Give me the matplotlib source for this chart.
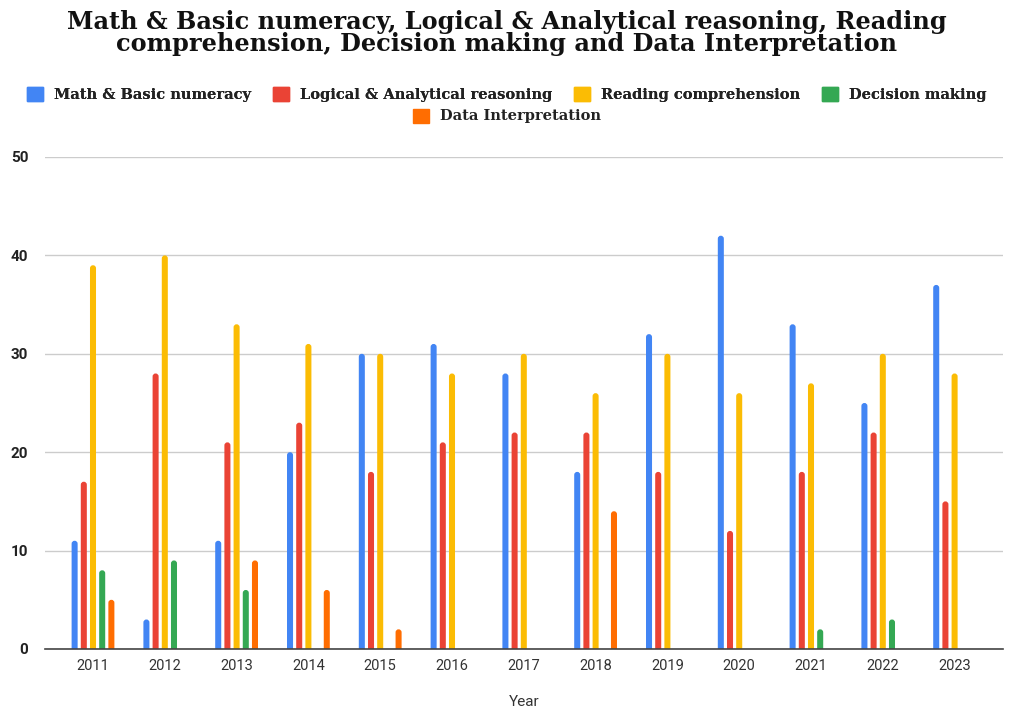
import matplotlib
matplotlib.use("Agg")
import matplotlib.pyplot as plt
from matplotlib.patches import Patch, FancyBboxPatch
import numpy as np

years = ["2011", "2012", "2013", "2014", "2015", "2016", "2017", "2018", "2019", "2020", "2021", "2022", "2023"]
series_names = ["Math & Basic numeracy", "Logical & Analytical reasoning", "Reading comprehension",
                "Decision making", "Data Interpretation"]
math_basic = [11, 3, 11, 20, 30, 31, 28, 18, 32, 42, 33, 25, 37]
logical = [17, 28, 21, 23, 18, 21, 22, 22, 18, 12, 18, 22, 15]
reading = [39, 40, 33, 31, 30, 28, 30, 26, 30, 26, 27, 30, 28]
decision = [8, 9, 6, 0, 0, 0, 0, 0, 0, 0, 2, 3, 0]
data_interp = [5, 0, 9, 6, 2, 0, 0, 14, 0, 0, 0, 0, 0]
colors = ["#4285F4", "#EA4335", "#FBBC04", "#34A853", "#FF6D01"]
yticks = [0, 10, 20, 30, 40, 50]

all_series = [math_basic, logical, reading, decision, data_interp]

W, H = 1026, 717
fig = plt.figure(figsize=(W / 100, H / 100), dpi=100)
ax_px_w, ax_px_h = 1003 - 45, 649 - 157
ax = fig.add_axes([45 / W, 1 - 649 / H, ax_px_w / W, ax_px_h / H])

xlim = ((45 - 93) / 71.8, (1003 - 93) / 71.8)
ylim = (0, 50)
ax.set_xlim(*xlim)
ax.set_ylim(*ylim)

x_per_px = (xlim[1] - xlim[0]) / ax_px_w
y_per_px = (ylim[1] - ylim[0]) / ax_px_h
aspect = y_per_px / x_per_px

x = np.arange(len(years))
step = 0.128
bw = 0.084
r = 3 * x_per_px
for i, (vals, c) in enumerate(zip(all_series, colors)):
    for xi, v in zip(x + (i - 2) * step, vals):
        if v <= 0:
            continue
        p = FancyBboxPatch((xi - bw / 2, -1), bw, v + 1,
                           boxstyle=f"round,pad=0,rounding_size={r}",
                           mutation_aspect=aspect, facecolor=c, edgecolor="none",
                           zorder=3, clip_on=True)
        ax.add_patch(p)

ax.set_yticks(yticks)
ax.set_yticklabels([str(v) for v in yticks], fontsize=11, fontweight="bold",
                   family="Roboto", color="#222222")
ax.set_xticks(x)
ax.set_xticklabels(years, fontsize=10.5, family="Roboto", color="#333333")
ax.tick_params(axis="both", length=0)
ax.tick_params(axis="y", pad=12)
ax.tick_params(axis="x", pad=7)
ax.grid(axis="y", color="#cccccc", linewidth=1, zorder=0)
for s in ["top", "right", "left"]:
    ax.spines[s].set_visible(False)
ax.spines["bottom"].set_color("#444444")
ax.spines["bottom"].set_linewidth(1.2)
ax.spines["bottom"].set_zorder(4)
ax.set_xlabel("Year", fontsize=11, family="Roboto", color="#333333", labelpad=16)

fig.text(507 / W, 1 - 33 / H,
         "Math & Basic numeracy, Logical & Analytical reasoning, Reading\n"
         "comprehension, Decision making and Data Interpretation",
         ha="center", va="center", fontsize=17.3, fontweight="bold",
         family="DejaVu Serif", linespacing=0.88, color="#111111")

handles = [Patch(facecolor=c, edgecolor=c) for c in colors]
leg_font = {"family": "DejaVu Serif", "weight": "bold", "size": 10.5}
common = dict(frameon=False, prop=leg_font, handlelength=1.1, handleheight=1.1,
              handletextpad=0.75, borderaxespad=0, borderpad=0)
leg1 = fig.legend(handles[:4], series_names[:4], loc="center", bbox_to_anchor=(507 / W, 1 - 94.5 / H),
                  ncol=4, columnspacing=1.5, **common)
leg2 = fig.legend(handles[4:], series_names[4:], loc="center", bbox_to_anchor=(507 / W, 1 - 116 / H),
                  ncol=1, **common)
fig.add_artist(leg1)
for t in leg1.get_texts() + leg2.get_texts():
    t.set_color("#222222")

fig.savefig("out.png", dpi=100, facecolor="white")
